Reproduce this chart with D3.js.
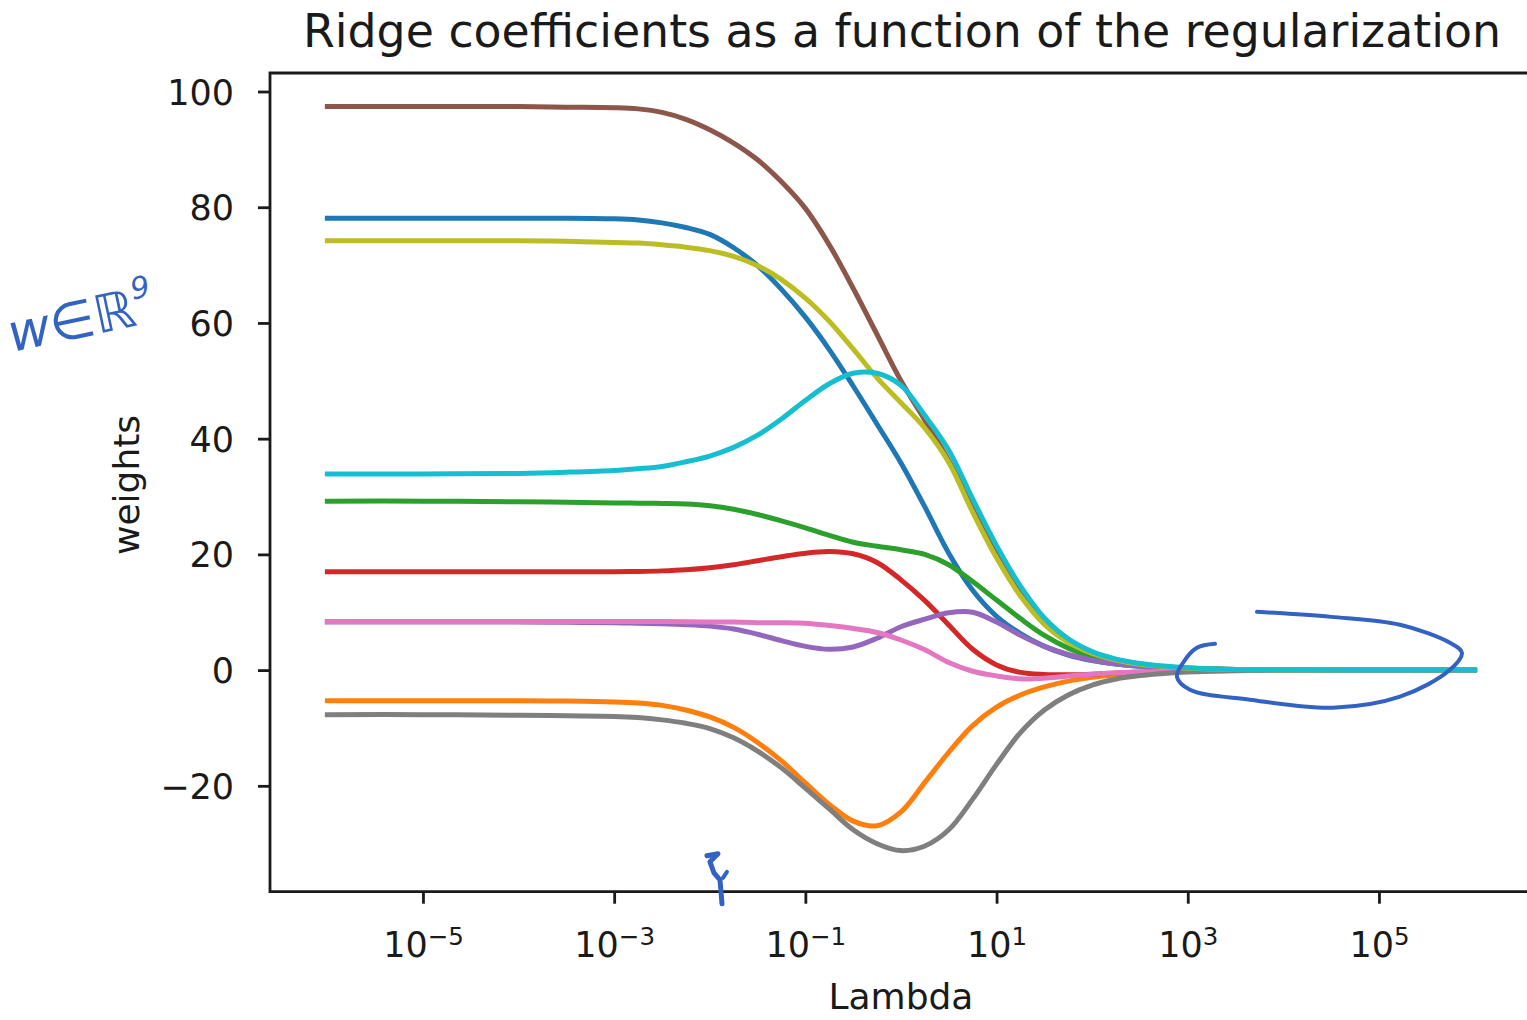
<!DOCTYPE html>
<html><head><meta charset="utf-8">
<script src="https://cdn.jsdelivr.net/npm/d3@7"></script>
<style>body{margin:0;background:#fff;overflow:hidden} text{font-family:"DejaVu Sans",sans-serif;fill:#1a1a1a}</style>
</head><body><svg id="c" width="1527" height="1020"></svg>
<script>
// log10(lambda) sample points
const logLambda = [-6,-5,-4,-3.5,-3,-2.75,-2.5,-2.25,-2,-1.75,-1.5,-1.25,-1,-0.75,-0.5,-0.25,0,0.25,0.5,0.75,1,1.25,1.5,1.75,2,2.25,2.5,2.75,3,3.5,4,5,6];
// coefficient paths (weights)
const w0 = [78.1,78.1,78.1,78.1,78.0,77.8,77.3,76.5,75.3,73.0,69.9,65.8,61.0,55.4,49.1,42.5,35.8,28.2,20.2,13.8,9.3,6.3,4.1,2.6,1.65,1.05,0.65,0.4,0.22,0.07,0.02,0,0];
const w1 = [-5.3,-5.3,-5.3,-5.35,-5.5,-5.7,-6.1,-6.9,-8.1,-9.9,-12.5,-15.7,-19.5,-23.2,-26.1,-26.9,-24.5,-19.4,-14.2,-9.6,-6.4,-4.3,-2.9,-1.9,-1.25,-0.8,-0.5,-0.32,-0.18,-0.06,-0.02,0,0];
const w2 = [29.2,29.2,29.1,29.0,28.9,28.85,28.8,28.7,28.4,27.8,26.9,25.8,24.6,23.3,22.1,21.4,20.8,20.0,18.2,15.3,12.1,8.9,6.0,3.8,2.3,1.4,0.85,0.5,0.27,0.08,0.03,0,0];
const w3 = [17.0,17.0,17.0,17.0,17.0,17.05,17.15,17.35,17.7,18.2,18.9,19.6,20.2,20.5,20.1,18.6,15.6,12.0,7.8,3.6,0.9,-0.4,-0.75,-0.8,-0.7,-0.5,-0.35,-0.22,-0.12,-0.04,-0.01,0,0];
const w4 = [8.3,8.3,8.3,8.25,8.2,8.1,8.0,7.85,7.6,7.1,6.2,5.1,4.1,3.6,4.0,5.5,7.5,8.8,9.9,10.0,8.3,6.0,4.1,2.7,1.7,1.05,0.65,0.4,0.22,0.07,0.02,0,0];
const w5 = [97.4,97.4,97.4,97.3,97.2,97.0,96.4,95.2,93.4,91.1,88.2,84.4,79.8,73.5,66.0,58.0,50.0,43.2,36.2,28.4,20.3,13.5,8.3,5.0,3.0,1.8,1.05,0.6,0.35,0.11,0.04,0,0];
const w6 = [8.4,8.4,8.4,8.4,8.4,8.4,8.4,8.35,8.3,8.3,8.2,8.2,8.1,7.7,7.2,6.5,5.2,3.5,1.3,-0.2,-1.0,-1.5,-1.4,-1.0,-0.7,-0.5,-0.3,-0.2,-0.1,-0.03,-0.01,0,0];
const w7 = [-7.7,-7.7,-7.8,-7.9,-8.0,-8.2,-8.6,-9.2,-10.1,-11.7,-14.0,-16.9,-20.4,-24.0,-27.6,-30.0,-31.2,-30.4,-27.6,-22.3,-16.3,-10.8,-6.9,-4.3,-2.6,-1.55,-0.95,-0.58,-0.33,-0.1,-0.03,0,0];
const w8 = [74.2,74.2,74.2,74.1,73.9,73.8,73.5,73.1,72.5,71.5,69.9,67.5,64.3,60.3,55.5,50.5,46.2,41.8,35.9,27.3,19.4,12.8,7.9,4.8,2.9,1.75,1.0,0.6,0.33,0.1,0.03,0,0];
const w9 = [33.9,33.9,34.0,34.2,34.5,34.8,35.2,36.0,37.0,38.5,40.6,43.4,46.6,49.5,51.3,51.3,49.2,44.0,38.0,29.6,21.5,14.5,9.0,5.4,3.2,1.9,1.15,0.7,0.4,0.12,0.04,0,0];
const series = [w0,w1,w2,w3,w4,w5,w6,w7,w8,w9];
const colors = ["#1f77b4","#ff7f0e","#2ca02c","#d62728","#9467bd","#8c564b","#e377c2","#7f7f7f","#bcbd22","#17becf"];
const xTickExps = [-5,-3,-1,1,3,5];
const yTicks = [-20,0,20,40,60,80,100];
const titleText = "Ridge coefficients as a function of the regularization";
const xLabel = "Lambda", yLabel = "weights";
// handwritten annotations, in [log10 lambda, weight] space
const loopNote = [[3.724,10.08],[4.5,9.2],[5.22,7.83],[5.743,4.72],[5.868,2.99],[5.743,0.05],[5.22,-4.6],[4.519,-6.5],[3.65,-5.13],[3.023,-3.4],[2.887,-1.16],[2.95,1.26],[3.096,3.85],[3.285,4.55]];
const tickNote = [[-2.029,-32.1],[-1.914,-31.75],[-1.998,-33.13],[-1.956,-35.03],[-1.893,-36.24],[-1.872,-40.39]];
const tickNote2 = [[-1.82,-34.86],[-1.862,-35.9]];

const svg = d3.select("#c");
const L = 270, T = 73, B = 891.7, R = 270 + 13.2*95.6;
const x = d3.scaleLog().domain([Math.pow(10,-6.6), Math.pow(10,6.6)]).range([L, R]);
const y = d3.scaleLinear().domain([-38.3, 103.2]).range([B, T]);

// lines
const line = d3.line().x(d => x(Math.pow(10,d[0]))).y(d => y(d[1])).curve(d3.curveCatmullRom.alpha(0.5));
series.forEach((s,i) => {
  svg.append("path").datum(logLambda.map((l,j)=>[l,s[j]]))
    .attr("d", line).attr("fill","none").attr("stroke",colors[i])
    .attr("stroke-width",5).attr("stroke-linecap","square").attr("stroke-linejoin","round");
});

// spines
const sp = svg.append("g").attr("stroke","#1a1a1a").attr("stroke-width",2.8).attr("fill","none");
sp.append("path").attr("d",`M${L},${T}V${B}H${R}V${T}Z`);

// y axis
const ya = svg.append("g").attr("transform",`translate(${L},0)`)
  .call(d3.axisLeft(y).tickValues(yTicks).tickSize(12).tickPadding(24).tickFormat(d3.format("d")));
ya.select(".domain").remove();
ya.selectAll(".tick line").attr("stroke","#1a1a1a").attr("stroke-width",2.8);
ya.selectAll(".tick text").attr("font-size",35).attr("font-family","DejaVu Sans").attr("fill","#1a1a1a").attr("dy","0.36em");

// x axis
const xa = svg.append("g").attr("transform",`translate(0,${B})`)
  .call(d3.axisBottom(x).tickValues(xTickExps.map(e=>Math.pow(10,e))).tickSize(12).tickFormat(""));
xa.select(".domain").remove();
xa.selectAll(".tick line").attr("stroke","#1a1a1a").attr("stroke-width",2.8);
xa.selectAll(".tick").each(function(d,i){
  const t = d3.select(this).append("text").attr("y",65.5).attr("text-anchor","middle")
    .attr("font-size",35).attr("fill","#1a1a1a").attr("font-family","DejaVu Sans");
  t.append("tspan").text("10");
  const e = xTickExps[i];
  t.append("tspan").attr("font-size",24.5).attr("dy",-12).text(e<0 ? "\u2212"+Math.abs(e) : String(e));
});

// title and labels
svg.append("text").attr("x",(L+R)/2+1).attr("y",47).attr("text-anchor","middle").attr("font-size",45.8).text(titleText);
svg.append("text").attr("x",(L+R)/2).attr("y",1009).attr("text-anchor","middle").attr("font-size",36).text(xLabel);
svg.append("text").attr("transform",`translate(139,485) rotate(-90)`).attr("text-anchor","middle").attr("font-size",36).text(yLabel);

// handwritten annotations
const ink = "#3262c2";
const nl = d3.line().x(d => x(Math.pow(10,d[0]))).y(d => y(d[1])).curve(d3.curveCatmullRom);
svg.append("path").datum(loopNote).attr("d",nl).attr("fill","none").attr("stroke",ink).attr("stroke-width",4).attr("stroke-linecap","round");
svg.append("path").datum(tickNote).attr("d",d3.line().x(d => x(Math.pow(10,d[0]))).y(d => y(d[1]))).attr("fill","none").attr("stroke",ink).attr("stroke-width",5).attr("stroke-linecap","round").attr("stroke-linejoin","round");
svg.append("path").datum(tickNote2).attr("d",d3.line().x(d => x(Math.pow(10,d[0]))).y(d => y(d[1]))).attr("fill","none").attr("stroke",ink).attr("stroke-width",4).attr("stroke-linecap","round");
const hw = svg.append("text").attr("transform","translate(12,352) rotate(-12)")
  .attr("font-size",52).attr("font-style","italic").style("fill",ink).attr("font-family","DejaVu Sans");
hw.append("tspan").text("w\u2208\u211D");
hw.append("tspan").attr("font-size",30).attr("dy",-26).text("9");
</script></body></html>
